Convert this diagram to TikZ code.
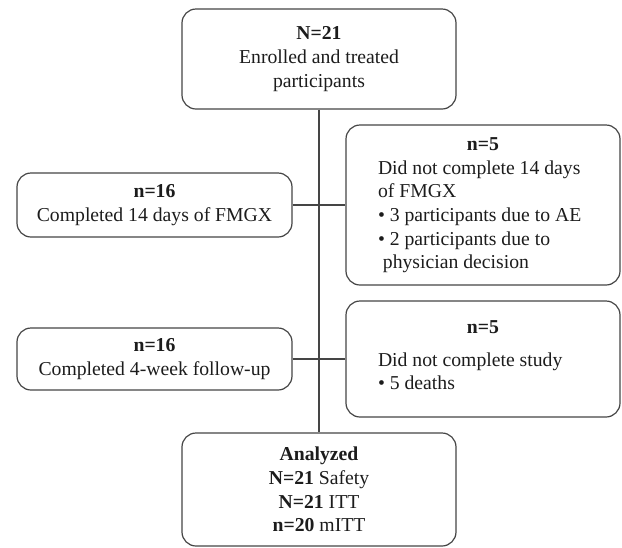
\documentclass[tikz,border=0pt]{standalone}
\usepackage{fontspec}
\setmainfont{Liberation Serif}
\definecolor{linec}{HTML}{454545}
\definecolor{textc}{HTML}{1c1c1c}
\tikzset{
  boxst/.style={draw=linec, line width=1.2pt, rounded corners=14pt, inner sep=0pt,
    text=textc, font=\fontsize{19.7}{23.7}\selectfont},
  conn/.style={draw=linec, line width=1.2pt}
}
\begin{document}
\begin{tikzpicture}[x=1pt,y=-1pt]
\useasboundingbox (0,0) rectangle (622,547);
\node[boxst, minimum width=274pt, minimum height=100pt, align=center] (top) at (319,59)
  {\textbf{N=21}\\Enrolled and treated\\participants};
\node[boxst, minimum width=275pt, minimum height=64pt, align=center] (l1) at (154.5,205)
  {\textbf{n=16}\\Completed 14 days of FMGX};
\node[boxst, minimum width=274pt, minimum height=160pt] (r1) at (483,205)
  {\begin{tabular}{@{}p{210pt}@{}}\multicolumn{1}{@{}c@{}}{\textbf{n=5}}\\Did not complete 14 days\\of FMGX\\• 3 participants due to AE\\• 2 participants due to\\\hspace*{0.25em}physician decision\end{tabular}};
\node[boxst, minimum width=275pt, minimum height=62pt, align=center] (l2) at (154.5,359)
  {\textbf{n=16}\\Completed 4-week follow-up};
\node[boxst, minimum width=274pt, minimum height=116pt] (r2) at (483,359)
  {\begin{tabular}{@{}p{210pt}@{}}\multicolumn{1}{@{}c@{}}{\textbf{n=5}}\\[9pt]Did not complete study\\• 5 deaths\\[4pt]\end{tabular}};
\node[boxst, minimum width=274pt, minimum height=113pt, align=center] (bot) at (319,489.5)
  {\textbf{Analyzed}\\\textbf{N=21} Safety\\\textbf{N=21} ITT\\\textbf{n=20} mITT};
\draw[conn] (top.south) -- (bot.north);
\draw[conn] (l1.east) -- (r1.west);
\draw[conn] (l2.east) -- (r2.west);
\end{tikzpicture}
\end{document}
